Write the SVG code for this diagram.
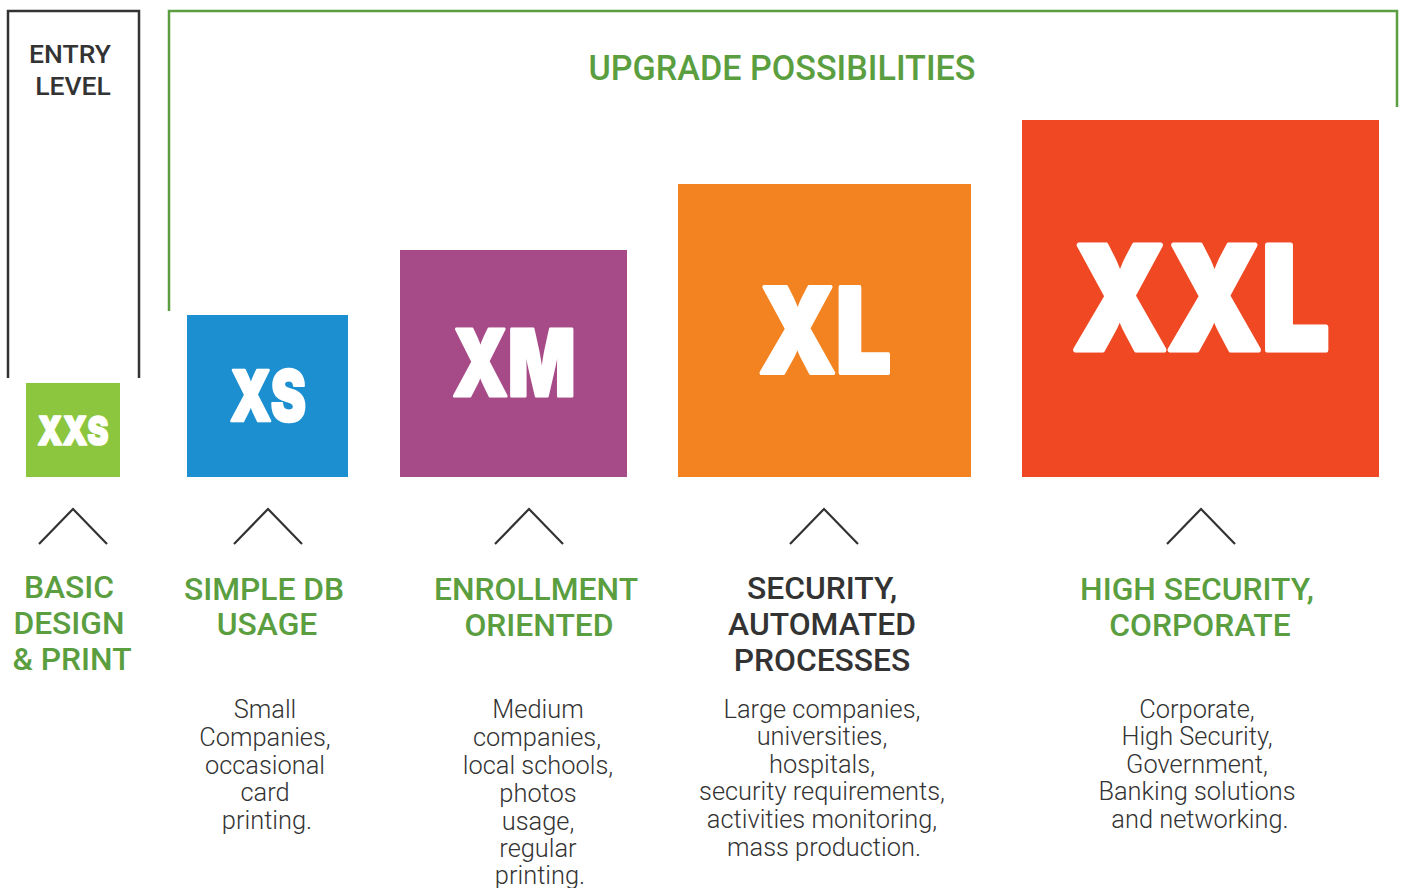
<svg xmlns="http://www.w3.org/2000/svg" width="1402" height="888" viewBox="0 0 1402 888">
<style>
.head{font-family:Roboto,"Liberation Sans",sans-serif;font-weight:500;font-size:31.8px;fill:#5a9e3f;text-anchor:middle}
.dark{fill:#333333}
.entry{font-family:Roboto,"Liberation Sans",sans-serif;font-weight:500;font-size:26.5px;fill:#333333;text-anchor:middle}
.title{font-size:35px}
.body{font-family:Roboto,"Liberation Sans",sans-serif;font-weight:300;font-size:25.4px;fill:#333333;text-anchor:middle}
.big{font-family:Inter,Roboto,"Liberation Sans",sans-serif;font-weight:900;fill:#ffffff;stroke:#ffffff;stroke-linejoin:round;text-anchor:middle}
.chev{fill:none;stroke:#333333;stroke-width:2.2}
</style>
<rect width="1402" height="888" fill="#ffffff"/>
<g id="frames">
<path d="M8 378 V11 H139 V378" fill="none" stroke="#333333" stroke-width="2.5"/>
<path d="M169 311 V11 H1397 V107" fill="none" stroke="#5a9e3f" stroke-width="2.5"/>
<text class="entry" x="70" y="63">ENTRY</text>
<text class="entry" x="73" y="95">LEVEL</text>
<text class="head title" x="782" y="80" textLength="387" lengthAdjust="spacingAndGlyphs">UPGRADE POSSIBILITIES</text>
</g>
<g id="xxs">
<rect x="26" y="383" width="94" height="94" fill="#8cc63f"/>
<text class="big" x="73" y="445" font-size="40" stroke-width="1.5" textLength="71" lengthAdjust="spacingAndGlyphs">XXS</text>
</g>
<g id="xs">
<rect x="187" y="315" width="161" height="162" fill="#1b8fcf"/>
<text class="big" x="268" y="421" font-size="70" stroke-width="2.5" textLength="76" lengthAdjust="spacingAndGlyphs">XS</text>
</g>
<g id="xm">
<rect x="400" y="250" width="227" height="227" fill="#a64b87"/>
<text class="big" x="514" y="396" font-size="92" stroke-width="3" textLength="123" lengthAdjust="spacingAndGlyphs">XM</text>
</g>
<g id="xl">
<rect x="678" y="184" width="293" height="293" fill="#f38220"/>
<text class="big" x="825" y="373" font-size="118" stroke-width="4" textLength="132" lengthAdjust="spacingAndGlyphs">XL</text>
</g>
<g id="xxl">
<rect x="1022" y="120" width="357" height="357" fill="#ef4823"/>
<text class="big" x="1201" y="350" font-size="144" stroke-width="5" textLength="257" lengthAdjust="spacingAndGlyphs">XXL</text>
</g>
<g id="connectors">
<path class="chev" d="M39 544 L73 509 L107 544"/>
<path class="chev" d="M234 544 L268 509 L302 544"/>
<path class="chev" d="M495 544 L529 509 L563 544"/>
<path class="chev" d="M790 544 L824 509 L858 544"/>
<path class="chev" d="M1167 544 L1201 509 L1235 544"/>
</g>
<g id="label-xxs">
<text class="head" x="69" y="598">BASIC</text>
<text class="head" x="69" y="634">DESIGN</text>
<text class="head" x="72" y="670">&amp; PRINT</text>
</g>
<g id="label-xs">
<text class="head" x="264" y="600">SIMPLE DB</text>
<text class="head" x="267" y="635">USAGE</text>
<text class="body" x="265" y="718">Small</text>
<text class="body" x="265" y="746">Companies,</text>
<text class="body" x="265" y="774">occasional</text>
<text class="body" x="265" y="801">card</text>
<text class="body" x="267" y="829">printing.</text>
</g>
<g id="label-xm">
<text class="head" x="536" y="600">ENROLLMENT</text>
<text class="head" x="539" y="636">ORIENTED</text>
<text class="body" x="538" y="718">Medium</text>
<text class="body" x="537" y="746">companies,</text>
<text class="body" x="538" y="774">local schools,</text>
<text class="body" x="538" y="802">photos</text>
<text class="body" x="538" y="830">usage,</text>
<text class="body" x="538" y="857">regular</text>
<text class="body" x="540" y="884">printing.</text>
</g>
<g id="label-xl">
<text class="head dark" x="822" y="599">SECURITY,</text>
<text class="head dark" x="822" y="635">AUTOMATED</text>
<text class="head dark" x="822" y="671">PROCESSES</text>
<text class="body" x="822" y="718">Large companies,</text>
<text class="body" x="822" y="745">universities,</text>
<text class="body" x="822" y="773">hospitals,</text>
<text class="body" x="822" y="800">security requirements,</text>
<text class="body" x="822" y="828">activities monitoring,</text>
<text class="body" x="824" y="856">mass production.</text>
</g>
<g id="label-xxl">
<text class="head" x="1197" y="600">HIGH SECURITY,</text>
<text class="head" x="1200" y="636">CORPORATE</text>
<text class="body" x="1197" y="718">Corporate,</text>
<text class="body" x="1197" y="745">High Security,</text>
<text class="body" x="1197" y="773">Government,</text>
<text class="body" x="1197" y="800">Banking solutions</text>
<text class="body" x="1200" y="828">and networking.</text>
</g>
</svg>
